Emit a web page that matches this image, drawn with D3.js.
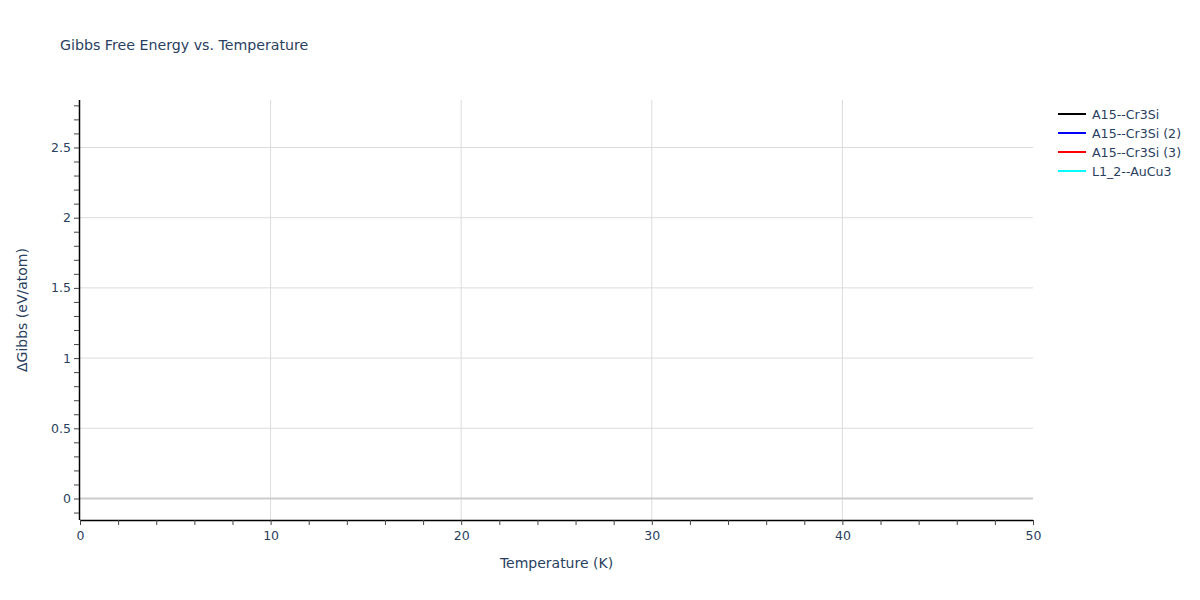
<!DOCTYPE html>
<html><head><meta charset="utf-8">
<script src="https://cdn.jsdelivr.net/npm/d3@7"></script>
<style>body{margin:0;background:#fff;font-family:"DejaVu Sans",sans-serif;} text{font-family:"DejaVu Sans",sans-serif;}</style>
</head><body><svg id="c" width="1200" height="600"></svg>
<script>
const title = "Gibbs Free Energy vs. Temperature";
const xLabel = "Temperature (K)";
const yLabel = "ΔGibbs (eV/atom)";
const seriesNames = ["A15--Cr3Si", "A15--Cr3Si (2)", "A15--Cr3Si (3)", "L1_2--AuCu3"];
const seriesColors = ["#000000", "#0000ff", "#ff0000", "#00ffff"];
// No data points visible within the plotted range
const seriesT = [[], [], [], []];
const seriesG = [[], [], [], []];
const xDomain = [0, 50];
const yDomain = [-0.153, 2.838];
const xTicks = [0, 10, 20, 30, 40, 50];
const yTicks = [0, 0.5, 1, 1.5, 2, 2.5];

const svg = d3.select("#c");
const L = 80, R = 1033, T = 100, B = 520;
const x = d3.scaleLinear().domain(xDomain).range([L, R]);
const y = d3.scaleLinear().domain(yDomain).range([B, T]);
const txt = "#2a3f5f";

// grid
svg.append("g").selectAll("line").data(xTicks.filter(d => d > 0 && d < 50)).join("line")
  .attr("x1", d => x(d)).attr("x2", d => x(d)).attr("y1", T).attr("y2", B)
  .attr("stroke", "#dcdcdc").attr("stroke-width", 1);
svg.append("g").selectAll("line").data(yTicks.filter(d => d !== 0)).join("line")
  .attr("x1", L).attr("x2", R).attr("y1", d => y(d)).attr("y2", d => y(d))
  .attr("stroke", "#dcdcdc").attr("stroke-width", 1);
// zero line
svg.append("line").attr("x1", L).attr("x2", R).attr("y1", y(0)).attr("y2", y(0))
  .attr("stroke", "#cccccc").attr("stroke-width", 2);

// data lines
const line = d3.line().x(d => x(d[0])).y(d => y(d[1]));
seriesNames.forEach((n, i) => {
  const pts = seriesT[i].map((t, j) => [t, seriesG[i][j]]);
  svg.append("path").datum(pts).attr("d", line).attr("fill", "none")
    .attr("stroke", seriesColors[i]).attr("stroke-width", 2);
});

// x axis
const xAxis = svg.append("g").attr("transform", `translate(0,${B})`)
  .call(d3.axisBottom(x).tickValues(d3.range(0, 51, 2)).tickSize(5)
    .tickFormat(d => xTicks.includes(d) ? d : ""));
xAxis.select(".domain").attr("stroke", "#000").attr("stroke-width", 1.5).attr("d", `M${L},0.5H${R}`);
xAxis.selectAll(".tick line").attr("stroke", "#444");
xAxis.selectAll("text").attr("fill", txt).style("font-size", "12.5px").style("font-family", "'DejaVu Sans',sans-serif").attr("dy", "0.95em");

// y axis
const yAxis = svg.append("g").attr("transform", `translate(${L - 1},0)`)
  .call(d3.axisLeft(y).tickValues(d3.range(-1, 29).map(i => +(i / 10).toFixed(1))).tickSize(5)
    .tickFormat(d => yTicks.includes(d) ? d : ""));
yAxis.select(".domain").attr("stroke", "#000").attr("stroke-width", 1.5).attr("d", `M0.5,${T}V${B}`);
yAxis.selectAll(".tick line").attr("stroke", "#444");
yAxis.selectAll("text").attr("fill", txt).style("font-size", "12.5px").style("font-family", "'DejaVu Sans',sans-serif").attr("x", -8);

// titles
svg.append("text").attr("x", 60).attr("y", 50).text(title)
  .attr("fill", txt).style("font-size", "14.2px");
svg.append("text").attr("x", (L + R) / 2).attr("y", 568).attr("text-anchor", "middle").text(xLabel)
  .attr("fill", txt).style("font-size", "14px");
svg.append("text").attr("transform", `translate(27,${(T + B) / 2}) rotate(-90)`).attr("text-anchor", "middle").text(yLabel)
  .attr("fill", txt).style("font-size", "14px");

// legend
const lg = svg.append("g").attr("transform", "translate(1058,114)");
seriesNames.forEach((n, i) => {
  const g = lg.append("g").attr("transform", `translate(0,${i * 19})`);
  g.append("line").attr("x1", 0).attr("x2", 28).attr("y1", 0).attr("y2", 0)
    .attr("stroke", seriesColors[i]).attr("stroke-width", 2);
  g.append("text").attr("x", 34).attr("y", 4.5).text(n).attr("fill", txt).style("font-size", "12.6px");
});
</script></body></html>
